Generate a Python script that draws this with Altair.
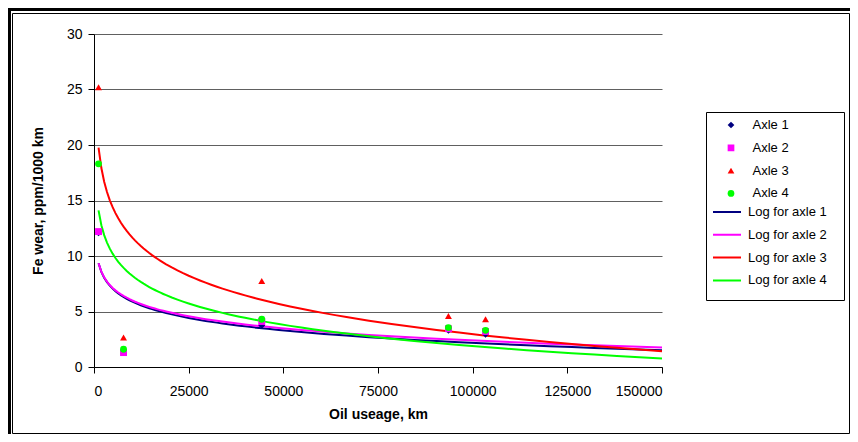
import altair as alt
import pandas as pd

# ---- data ----
oil_km = [1200, 7800, 44300, 93600, 103400]
axle1 = [12.1, 1.45, 3.75, 3.3, 2.95]
axle2 = [12.2, 1.3, 4.1, 3.45, 3.2]
axle3 = [25.2, 2.65, 7.75, 4.6, 4.3]
axle4 = [18.3, 1.6, 4.3, 3.55, 3.3]

series = ["Axle 1", "Axle 2", "Axle 3", "Axle 4"]
trend_names = ["Log for axle 1", "Log for axle 2", "Log for axle 3", "Log for axle 4"]
colors = ["#000080", "#FF00FF", "#FF0000", "#00FF00"]
shapes = ["diamond", "square", "triangle-up", "circle"]
x_ticks = [0, 25000, 50000, 75000, 100000, 125000, 150000]
y_ticks = [0, 5, 10, 15, 20, 25, 30]

rows = []
for s, t, vals in zip(series, trend_names, [axle1, axle2, axle3, axle4]):
    for xv, yv in zip(oil_km, vals):
        rows.append({"series": s, "trend": t, "km": xv, "wear": yv})
df = pd.DataFrame(rows)

FONT = "Liberation Sans"

x_enc = alt.X(
    "km:Q",
    scale=alt.Scale(domain=[0, 150000], nice=False, zero=True),
    axis=alt.Axis(values=x_ticks, format="d", title="Oil useage, km", grid=False,
                  labelPadding=11, titleX=284, titleY=47, titleBaseline="middle"),
)
y_enc = alt.Y(
    "wear:Q",
    scale=alt.Scale(domain=[0, 30], nice=False),
    axis=alt.Axis(values=y_ticks, title="Fe wear, ppm/1000 km", grid=True,
                  labelPadding=6, titleX=-56, titleY=166.5, titleAngle=-90,
                  titleBaseline="middle", titleAlign="center"),
)

base = alt.Chart(df)

# frame & legend box (decoration)
deco_df = pd.DataFrame({"k": [0]})
deco = alt.Chart(deco_df)
frame_top = deco.mark_rule(color="black", strokeWidth=3).encode(
    x=alt.value(-86), x2=alt.value(756), y=alt.value(-24.5), y2=alt.value(-24.5))
frame_left = deco.mark_rule(color="black", strokeWidth=3).encode(
    x=alt.value(-84.5), x2=alt.value(-84.5), y=alt.value(-26), y2=alt.value(400))
frame_inner = deco.mark_rect(fill="transparent", stroke="black", strokeWidth=1).encode(
    x=alt.value(-81.5), x2=alt.value(755.5), y=alt.value(-20.5), y2=alt.value(399.5))
legend_box = deco.mark_rect(fill="transparent", stroke="black", strokeWidth=1).encode(
    x=alt.value(612.5), x2=alt.value(750.5), y=alt.value(78.5), y2=alt.value(266.5))

line_legend = alt.Legend(
    title=None, orient="none", legendX=618, legendY=171.5, padding=0,
    symbolType="stroke", symbolSize=784, symbolStrokeWidth=2, clipHeight=13,
    rowPadding=8.8, labelOffset=6, labelFont=FONT, labelFontSize=13,
    labelColor="black",
)
lines = base.transform_regression(
    "km", "wear", method="log", groupby=["trend"], extent=[1200, 150000]
).mark_line(strokeWidth=2).encode(
    x=x_enc, y=y_enc,
    stroke=alt.Stroke("trend:N", scale=alt.Scale(domain=trend_names, range=colors),
                      legend=line_legend),
)

pt_legend = alt.Legend(
    title=None, orient="none", legendX=630.5, legendY=84.5, padding=0,
    symbolSize=45, clipHeight=13, rowPadding=8.8, labelOffset=15,
    labelFont=FONT, labelFontSize=13, labelColor="black", symbolStrokeWidth=0,
)
points = base.mark_point(filled=True, size=48, opacity=1).encode(
    x=x_enc, y=y_enc,
    color=alt.Color("series:N", scale=alt.Scale(domain=series, range=colors), legend=pt_legend),
    shape=alt.Shape("series:N", scale=alt.Scale(domain=series, range=shapes), legend=pt_legend),
)

chart = alt.layer(
    frame_inner, frame_top, frame_left, legend_box, lines, points
).properties(
    width=568, height=333,
    padding={"left": 86, "top": 26, "right": 188, "bottom": 67},
    autosize=alt.AutoSizeParams(type="none"),
    background="white",
).configure_view(
    strokeWidth=0
).configure_axis(
    labelFont=FONT, labelFontSize=14, labelColor="black",
    titleFont=FONT, titleFontSize=14, titleFontWeight="bold", titleColor="black",
    domainColor="black", domainWidth=1, tickColor="black", tickSize=6, tickWidth=1,
    gridColor="#606060", gridWidth=1, gridOpacity=1,
)

chart.save("out.html", embed_options={"renderer": "svg", "actions": False})
